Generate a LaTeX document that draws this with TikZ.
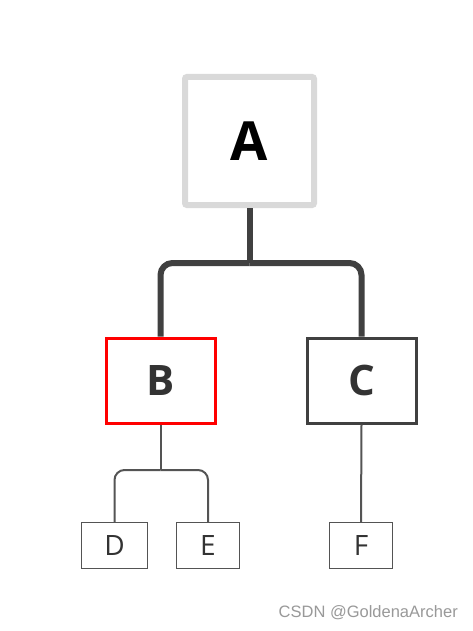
\documentclass[tikz,border=0pt]{standalone}
\usepackage{fontspec}
\setmainfont{Open Sans}
\newfontfamily\wmfont{Liberation Sans}
\begin{document}
\begin{tikzpicture}[x=1pt,y=-1pt,
  rootbox/.style={draw=black!15,line width=6pt,rounded corners=2pt,minimum width=129pt,minimum height=128pt,inner sep=0pt,
    font=\fontsize{54}{54}\selectfont\bfseries,text=black},
  midbox/.style={line width=3pt,minimum width=109pt,minimum height=85pt,inner sep=0pt,
    font=\fontsize{42}{42}\selectfont\bfseries,text=black!80},
  leafbox/.style={draw=black!67,line width=1.5pt,minimum height=46pt,inner sep=0pt,
    font=\fontsize{28}{28}\selectfont,text=black!80},
  thick conn/.style={draw=black!75,line width=6pt,rounded corners=12pt},
  thin conn/.style={draw=black!67,line width=2pt,rounded corners=10pt}]
\useasboundingbox (0,0) rectangle (472,631);
\fill[white] (0,0) rectangle (472,631);
\node[rootbox] (A) at (249.5,141) {A};
\node[midbox,draw=red] (B) at (160.5,380.5) {B};
\node[midbox,draw=black!75] (C) at (361.5,380.5) {C};
\node[leafbox,minimum width=66pt] (D) at (114.5,545.5) {D};
\node[leafbox,minimum width=63pt] (E) at (208,545.5) {E};
\node[leafbox,minimum width=63pt] (F) at (361,545.5) {F};
\coordinate (J1) at (249.5,263);
\coordinate (J2) at (160.5,470);
\draw[thick conn] (A.south) -- (J1);
\draw[thick conn] (J1) -| (B.north);
\draw[thick conn] (J1) -| (C.north);
\draw[thin conn] (B.south) -- (J2);
\draw[thin conn] (J2) -| (D.north);
\draw[thin conn] (J2) -| (E.north);
\draw[thin conn,rounded corners=0pt] (C.south) -- (F.north);
\node[anchor=east,text=black!40,font=\wmfont\fontsize{16.5}{16.5}\selectfont,inner sep=0pt] (W) at (458,613) {CSDN @GoldenaArcher};
\end{tikzpicture}
\end{document}
